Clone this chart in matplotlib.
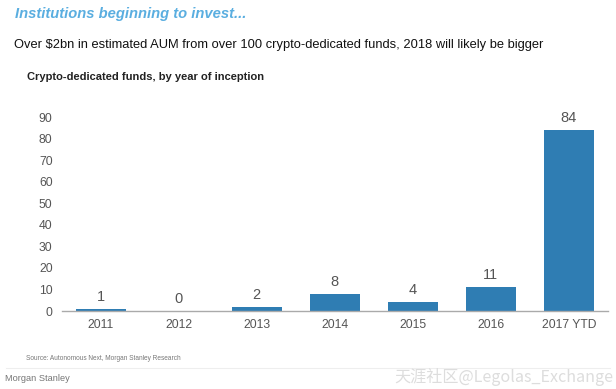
import matplotlib.pyplot as plt

years = ["2011", "2012", "2013", "2014", "2015", "2016", "2017 YTD"]
funds = [1, 0, 2, 8, 4, 11, 84]
yticks = [0, 10, 20, 30, 40, 50, 60, 70, 80, 90]

plt.rcParams['font.family'] = ['Liberation Sans', 'DejaVu Sans']

fig = plt.figure(figsize=(6.16, 3.89), dpi=100)
ax = fig.add_axes([0.1, 0.2005, 0.887, 0.4985])

bar_color = '#2f7db3'
x = range(len(years))
ax.bar(x, funds, width=0.64, color=bar_color, zorder=2)
for i, v in zip(x, funds):
    ax.text(i, v + 2.3, str(v), ha='center', va='bottom', fontsize=10.5, color='#555555')

ax.set_xlim(-0.5, len(years) - 0.5)
ax.set_ylim(0, 90)
ax.set_yticks(yticks)
ax.set_xticks(list(x))
ax.set_xticklabels(years)
ax.tick_params(axis='both', length=0, colors='#555555', labelsize=8.7)
ax.tick_params(axis='y', pad=6.5)
ax.tick_params(axis='x', pad=6)
for s in ['top', 'right', 'left']:
    ax.spines[s].set_visible(False)
ax.spines['bottom'].set_color('#aaaaaa')
ax.spines['bottom'].set_linewidth(1.0)

fig.text(0.024, 0.965, "Institutions beginning to invest...", color='#5aaee0',
         fontsize=10.6, fontweight='bold', fontstyle='italic', va='center')
fig.text(0.023, 0.885, "Over $2bn in estimated AUM from over 100 crypto-dedicated funds, 2018 will likely be bigger",
         color='#111111', fontsize=9.3, va='center')
fig.text(0.044, 0.802, "Crypto-dedicated funds, by year of inception",
         color='#222222', fontsize=8.0, fontweight='bold', va='center')
fig.text(0.042, 0.078, "Source: Autonomous Next, Morgan Stanley Research",
         color='#777777', fontsize=4.7, va='center')
fig.add_artist(plt.Line2D([0.01, 0.99], [0.055, 0.055], color='#eeeeee', lw=0.8))
fig.text(0.008, 0.027, "Morgan Stanley", color='#777777', fontsize=6.7, va='center')
fig.text(0.995, 0.03, "天涯社区@Legolas_Exchange", color='#dddddd', fontsize=11.6,
         ha='right', va='center', family=['Noto Sans CJK SC', 'DejaVu Sans'])

fig.savefig('out.png', dpi=100)
